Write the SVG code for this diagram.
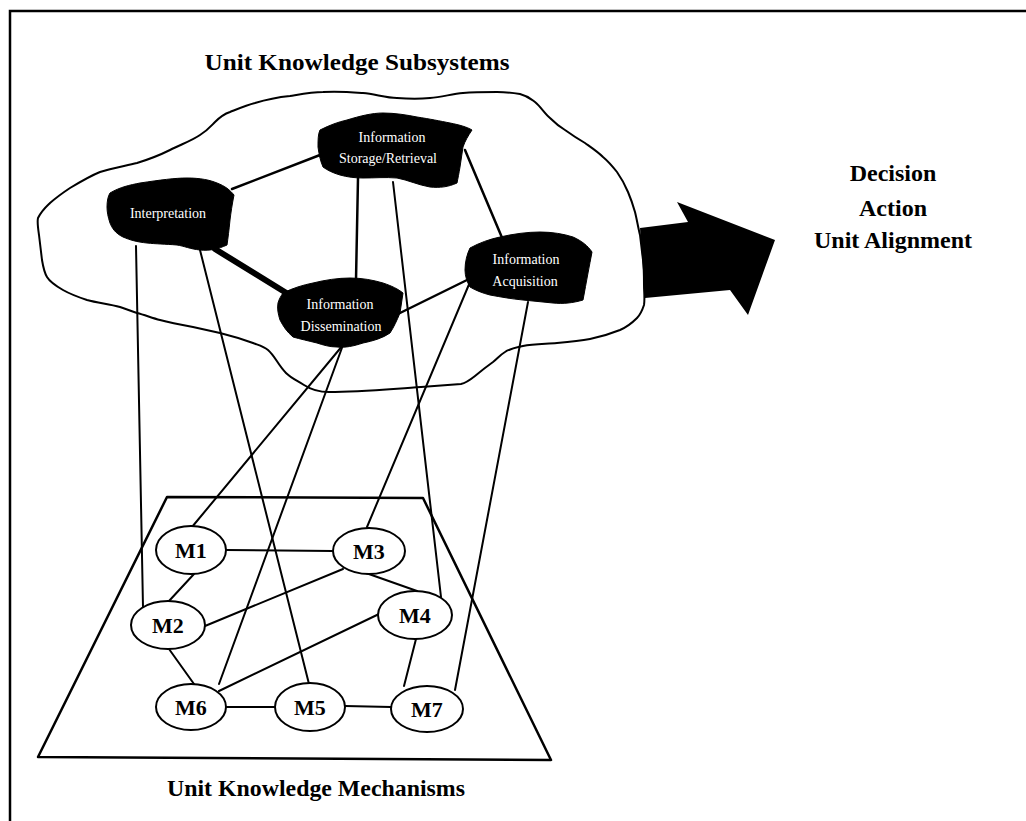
<svg xmlns="http://www.w3.org/2000/svg" width="1026" height="821" viewBox="0 0 1026 821">
<style>
.ln{stroke:#000;stroke-width:2;fill:none;stroke-linecap:round}
.blob{fill:#000;stroke:#000;stroke-width:1}
.bt{font-family:"Liberation Serif","Times New Roman",serif;font-size:14px;fill:#fff;text-anchor:middle}
.ttl{font-family:"Liberation Serif","Times New Roman",serif;font-size:24px;font-weight:bold;fill:#000;text-anchor:middle}
.mn ellipse{fill:#fff;stroke:#000;stroke-width:2}
.mn text{font-family:"Liberation Serif","Times New Roman",serif;font-size:22px;font-weight:bold;fill:#000;text-anchor:middle}
</style>
<rect width="1026" height="821" fill="#fff"/>
<path d="M10,821 L10,11 L1026,11" fill="none" stroke="#000" stroke-width="2.5"/>
<text class="ttl" x="357" y="70" textLength="305" lengthAdjust="spacingAndGlyphs">Unit Knowledge Subsystems</text>
<g id="cloud">
<path fill="none" stroke="#000" stroke-width="2" stroke-linejoin="round" d="M38,218 C42,210 48,205 50,203 C58,196 64,192 70,188 C80,182 90,176 100,172 C112,168 125,166 137,163 C150,159 160,155 170,150 C182,144 193,140 200,135 C208,130 211,126 215,122 C220,117 224,114 230,112 C240,108 247,105 255,103 C268,99 280,97 290,96 C302,94 312,92 323,92 C338,91 350,92 363,93 C375,94 386,98 397,98 C410,99 420,99 430,98 C442,97 452,94 463,93 C474,92 486,92 497,92 C508,92 514,93 520,94 C528,96 531,99 535,102 C541,107 545,114 550,118 C556,124 560,127 565,130 C572,135 578,139 585,143 C592,148 598,152 603,157 C609,162 613,167 617,172 C622,179 625,185 628,192 C631,199 633,205 635,212 C637,220 638,227 640,235 C641,243 642,252 643,260 C644,268 644,277 644,285 C644,292 645,299 644,305 C642,311 640,315 637,318 C632,323 627,327 620,330 C610,334 600,337 590,339 C579,341 568,342 557,343 C545,344 533,344 523,346 C514,348 509,349 505,352 C500,355 497,359 493,362 C486,367 481,371 475,376 C470,380 466,383 461,384 C448,385 435,386 421,387 C390,389 360,392 329,392 C318,392 310,389 304,385 C296,380 291,378 286,373 C278,365 275,356 268,350 C263,346 258,345 253,343 C242,339 232,336 220,333 C211,331 202,329 193,327 C182,325 171,323 160,320 C152,318 145,315 137,313 C131,311 126,309 120,307 C109,304 98,303 87,300 C78,297 70,294 63,290 C56,286 50,282 47,277 C44,272 43,266 42,260 C41,252 40,243 39,235 C38,228 37,222 38,218 Z"/>
</g>
<g id="arrow">
<polygon points="640,228 688,222 677,202 775,240 748,315 730,290 645,298" fill="#000"/>
</g>
<g id="connectors">
<line class="ln" x1="232" y1="189" x2="320" y2="155" style="stroke-width:2.5"/>
<line class="ln" x1="215" y1="249" x2="288" y2="294" style="stroke-width:6"/>
<line class="ln" x1="358" y1="178" x2="356" y2="280" style="stroke-width:2.5"/>
<line class="ln" x1="465" y1="150" x2="503" y2="240" style="stroke-width:2.5"/>
<line class="ln" x1="400" y1="313" x2="467" y2="280" style="stroke-width:2.5"/>
<line class="ln" x1="136" y1="246" x2="143" y2="607"/>
<line class="ln" x1="200" y1="250" x2="309" y2="684"/>
<line class="ln" x1="343" y1="345" x2="192" y2="527"/>
<line class="ln" x1="343" y1="345" x2="219" y2="684"/>
<line class="ln" x1="470" y1="282" x2="367" y2="527"/>
<line class="ln" x1="393" y1="182" x2="441" y2="597"/>
<line class="ln" x1="528" y1="302" x2="455" y2="690"/>
<line class="ln" x1="226" y1="550" x2="333" y2="551"/>
<line class="ln" x1="194" y1="574" x2="169" y2="601"/>
<line class="ln" x1="343" y1="569" x2="205" y2="626"/>
<line class="ln" x1="366" y1="573" x2="417" y2="591"/>
<line class="ln" x1="169" y1="649" x2="194" y2="684"/>
<line class="ln" x1="379" y1="614" x2="219" y2="691"/>
<line class="ln" x1="416" y1="639" x2="404" y2="686"/>
<line class="ln" x1="226" y1="707" x2="275" y2="707"/>
<line class="ln" x1="345" y1="706" x2="391" y2="707"/>
</g>
<g id="interpretation">
<path class="blob" d="M110,193 C120,187 130,185 140,183 C160,180 175,178 187,178 C200,178 210,180 217,183 C225,186 230,190 234,195 C232,205 231,212 230,220 C229,230 228,238 227,245 C218,249 210,251 200,250 C190,249 184,246 177,245 C165,244 156,244 147,243 C137,242 130,240 123,237 C115,233 112,228 110,223 C108,217 107,212 107,207 C107,201 108,196 110,193 Z"/>
<text class="bt" x="168" y="218">Interpretation</text>
</g>
<g id="storage">
<path class="blob" d="M320,130 C330,125 338,122 347,120 C360,116 372,113 383,113 C395,113 407,115 417,117 C430,119 440,121 450,123 C460,125 467,127 472,130 C468,136 465,141 463,147 C462,154 461,160 460,167 C459,173 458,178 457,183 C448,187 440,188 430,187 C418,185 408,180 397,178 C385,177 375,178 363,178 C355,178 347,177 340,175 C333,173 327,170 323,167 C320,160 319,154 318,147 C318,140 318,134 320,130 Z"/>
<text class="bt" x="392" y="142">Information</text>
<text class="bt" x="388" y="163">Storage/Retrieval</text>
</g>
<g id="dissemination">
<path class="blob" d="M283,293 C293,288 303,285 313,283 C325,280 338,278 350,278 C362,278 373,280 383,283 C392,286 398,289 403,293 C402,300 401,306 400,313 C397,320 394,327 390,333 C383,338 373,341 363,343 C354,346 345,348 337,347 C330,347 323,345 317,343 C309,341 300,339 293,337 C287,332 283,326 280,320 C278,314 277,308 278,303 C279,299 281,296 283,293 Z"/>
<text class="bt" x="340" y="309">Information</text>
<text class="bt" x="341" y="331">Dissemination</text>
</g>
<g id="acquisition">
<path class="blob" d="M470,248 C479,243 490,239 500,237 C513,234 527,232 540,232 C552,232 564,234 573,237 C582,241 588,246 592,252 C591,259 589,266 588,273 C586,282 585,291 583,300 C573,303 563,304 553,303 C543,302 533,301 523,300 C512,299 501,297 490,295 C482,293 475,290 470,287 C467,282 465,276 465,270 C465,262 467,254 470,248 Z"/>
<text class="bt" x="526" y="264">Information</text>
<text class="bt" x="525" y="286">Acquisition</text>
</g>
<text class="ttl" x="893" y="181">Decision</text>
<text class="ttl" x="893" y="216">Action</text>
<text class="ttl" x="893" y="248">Unit Alignment</text>
<g id="mechanisms">
<polygon points="167,497 423,498 551,760 38,757" fill="none" stroke="#000" stroke-width="2.5" stroke-linejoin="round"/>
</g>
<g id="M1" class="mn"><ellipse cx="191" cy="550" rx="35" ry="24"/><text x="191" y="558">M1</text></g>
<g id="M3" class="mn"><ellipse cx="369" cy="551" rx="36" ry="23"/><text x="369" y="559">M3</text></g>
<g id="M2" class="mn"><ellipse cx="168" cy="625" rx="37" ry="24"/><text x="168" y="633">M2</text></g>
<g id="M4" class="mn"><ellipse cx="415" cy="615" rx="37" ry="24"/><text x="415" y="623">M4</text></g>
<g id="M6" class="mn"><ellipse cx="191" cy="707" rx="35" ry="23"/><text x="191" y="715">M6</text></g>
<g id="M5" class="mn"><ellipse cx="310" cy="707" rx="35" ry="24"/><text x="310" y="715">M5</text></g>
<g id="M7" class="mn"><ellipse cx="427" cy="709" rx="36" ry="23"/><text x="427" y="717">M7</text></g>
<text class="ttl" x="316" y="796" textLength="298" lengthAdjust="spacingAndGlyphs">Unit Knowledge Mechanisms</text>
</svg>
